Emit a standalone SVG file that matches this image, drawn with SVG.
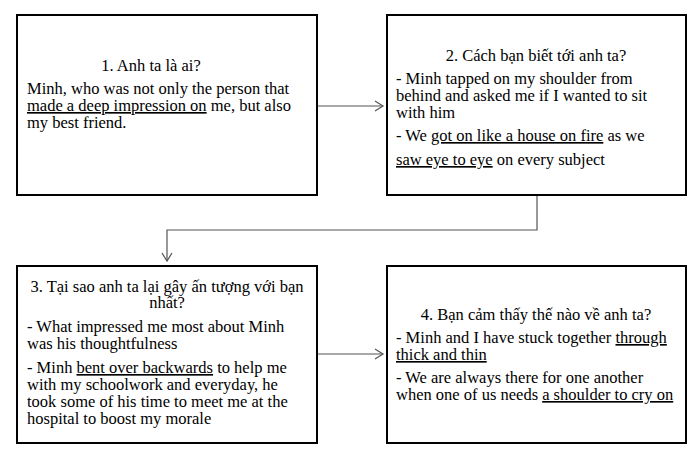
<svg xmlns="http://www.w3.org/2000/svg" width="700" height="453" viewBox="0 0 700 453">
<defs>
<style>
.box{fill:#fff;stroke:#000;stroke-width:2}
.t{font-family:"Liberation Serif","Times New Roman",serif;font-size:16.5px;fill:#000}
.c{text-anchor:middle}
.u{text-decoration:underline}
.conn{fill:none;stroke:#555;stroke-width:1.2}
</style>
<marker id="arr" markerUnits="userSpaceOnUse" markerWidth="12" markerHeight="14" refX="9" refY="6" orient="auto">
<path d="M1,1 L9,6 L1,11" fill="none" stroke="#555" stroke-width="1.2"/>
</marker>
</defs>
<rect width="700" height="453" fill="#fff"/>
<g id="connectors">
<path class="conn" d="M317,106 H383" marker-end="url(#arr)"/>
<path class="conn" d="M537,195 V230 H167 V261" marker-end="url(#arr)"/>
<path class="conn" d="M317,354 H383" marker-end="url(#arr)"/>
</g>
<g id="node1">
<rect class="box" x="17" y="15" width="300" height="180"/>
<text class="t c" x="151" y="71">1. Anh ta là ai?</text>
<text class="t" x="27" y="94">Minh, who was not only the person that</text>
<text class="t" x="27" y="111"><tspan class="u">made a deep impression on</tspan> me, but also</text>
<text class="t" x="27" y="128">my best friend.</text>
</g>
<g id="node2">
<rect class="box" x="387" y="15" width="299" height="180"/>
<text class="t c" x="536" y="61">2. Cách bạn biết tới anh ta?</text>
<text class="t" x="396" y="84">- Minh tapped on my shoulder from</text>
<text class="t" x="396" y="101">behind and asked me if I wanted to sit</text>
<text class="t" x="396" y="118">with him</text>
<text class="t" x="396" y="141">- We <tspan class="u">got on like a house on fire</tspan> as we</text>
<text class="t" x="396" y="165"><tspan class="u">saw eye to eye</tspan> on every subject</text>
</g>
<g id="node3">
<rect class="box" x="17" y="266" width="300" height="177"/>
<text class="t c" x="167" y="292">3. Tại sao anh ta lại gây ấn tượng với bạn</text>
<text class="t c" x="167" y="308">nhất?</text>
<text class="t" x="27" y="332">- What impressed me most about Minh</text>
<text class="t" x="27" y="349">was his thoughtfulness</text>
<text class="t" x="27" y="373">- Minh <tspan class="u">bent over backwards</tspan> to help me</text>
<text class="t" x="27" y="390">with my schoolwork and everyday, he</text>
<text class="t" x="27" y="407">took some of his time to meet me at the</text>
<text class="t" x="27" y="424">hospital to boost my morale</text>
</g>
<g id="node4">
<rect class="box" x="387" y="266" width="299" height="177"/>
<text class="t c" x="536" y="320">4. Bạn cảm thấy thế nào về anh ta?</text>
<text class="t" x="396" y="343">- Minh and I have stuck together <tspan class="u">through</tspan></text>
<text class="t" x="396" y="360"><tspan class="u">thick and thin</tspan></text>
<text class="t" x="396" y="383">- We are always there for one another</text>
<text class="t" x="396" y="400">when one of us needs <tspan class="u">a shoulder to cry on</tspan></text>
</g>
</svg>
